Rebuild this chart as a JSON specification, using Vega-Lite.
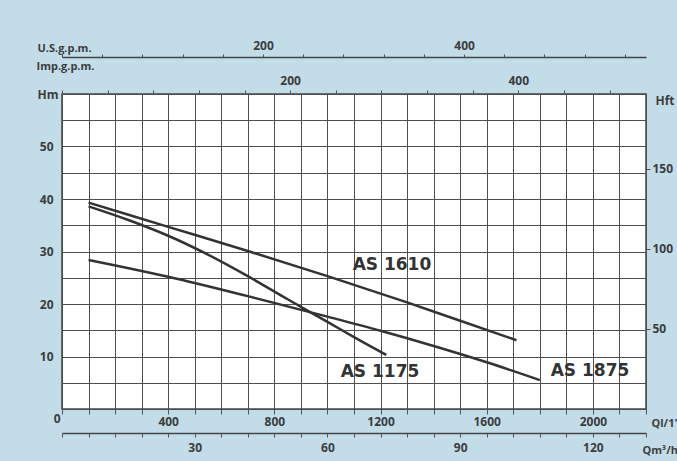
{
  "$schema": "https://vega.github.io/schema/vega-lite/v6.json",
  "width": 584,
  "height": 315,
  "autosize": {"type": "none"},
  "padding": {"left": 62, "top": 94, "right": 31, "bottom": 52},
  "background": "#c2dce8",
  "config": {
    "view": {"fill": "white", "stroke": "#444444", "strokeWidth": 1.5},
    "axis": {
      "labelFont": "Open Sans", "labelFontWeight": "bold", "labelFontSize": 12, "labelColor": "#3c3c3c",
      "titleFont": "Open Sans", "titleFontWeight": "bold", "titleFontSize": 11, "titleColor": "#3c3c3c",
      "tickColor": "#555555", "domainColor": "#444444", "gridColor": "#4f4f4f", "gridWidth": 1, "gridOpacity": 1,
      "labelOverlap": false, "labelFlush": false
    }
  },
  "datasets": {
    "curves": [
      {"pump": "AS 1610", "q": 100, "h": 39.3},
      {"pump": "AS 1610", "q": 400, "h": 34.7},
      {"pump": "AS 1610", "q": 700, "h": 30.1},
      {"pump": "AS 1610", "q": 1000, "h": 25.3},
      {"pump": "AS 1610", "q": 1300, "h": 20.3},
      {"pump": "AS 1610", "q": 1500, "h": 16.8},
      {"pump": "AS 1610", "q": 1712, "h": 13.1},
      {"pump": "AS 1175", "q": 100, "h": 38.6},
      {"pump": "AS 1175", "q": 250, "h": 36.0},
      {"pump": "AS 1175", "q": 400, "h": 33.0},
      {"pump": "AS 1175", "q": 550, "h": 29.4},
      {"pump": "AS 1175", "q": 700, "h": 25.3},
      {"pump": "AS 1175", "q": 850, "h": 20.9},
      {"pump": "AS 1175", "q": 1000, "h": 16.6},
      {"pump": "AS 1175", "q": 1100, "h": 13.7},
      {"pump": "AS 1175", "q": 1222, "h": 10.3},
      {"pump": "AS 1875", "q": 100, "h": 28.4},
      {"pump": "AS 1875", "q": 400, "h": 25.2},
      {"pump": "AS 1875", "q": 700, "h": 21.5},
      {"pump": "AS 1875", "q": 1000, "h": 17.6},
      {"pump": "AS 1875", "q": 1200, "h": 14.9},
      {"pump": "AS 1875", "q": 1400, "h": 12.0},
      {"pump": "AS 1875", "q": 1600, "h": 8.9},
      {"pump": "AS 1875", "q": 1800, "h": 5.5}
    ],
    "labels": [
      {"pump": "AS 1610", "q": 1243, "h": 27.4},
      {"pump": "AS 1175", "q": 1198, "h": 7.0},
      {"pump": "AS 1875", "q": 1989, "h": 7.2}
    ],
    "m3h": [{"v": 0}, {"v": 132}],
    "usgpm": [{"v": 0}, {"v": 581}],
    "impgpm": [{"v": 0}, {"v": 512}],
    "hft": [{"v": 0}, {"v": 196.85}]
  },
  "layer": [
    {
      "data": {"name": "curves"},
      "mark": {"type": "line", "stroke": "#333333", "strokeWidth": 2.5, "interpolate": "monotone"},
      "encoding": {
        "x": {
          "field": "q", "type": "quantitative",
          "scale": {"domain": [0, 2200], "nice": false, "zero": false},
          "axis": {
            "orient": "bottom",
            "values": [0,100,200,300,400,500,600,700,800,900,1000,1100,1200,1300,1400,1500,1600,1700,1800,1900,2000,2100,2200],
            "grid": true, "domain": false, "tickSize": 5, "labelPadding": 2, "format": "d",
            "labelExpr": "(datum.value % 400 == 0 && datum.value > 0) ? datum.label : ''",
            "title": "Ql/1'", "titleX": 589, "titleY": 14, "titleAlign": "left", "titleBaseline": "middle", "titleFontSize": 11
          }
        },
        "y": {
          "field": "h", "type": "quantitative",
          "scale": {"domain": [0, 60], "nice": false},
          "axis": {
            "orient": "left",
            "values": [0,5,10,15,20,25,30,35,40,45,50,55,60],
            "grid": true, "domain": false, "tickSize": 0, "format": "d",
            "labelPadding": {"condition": {"test": "datum.value == 0", "value": 2}, "value": 9},
            "labelOffset": {"condition": {"test": "datum.value == 0", "value": 9}, "value": 0},
            "labelExpr": "(datum.value % 10 == 0 && datum.value < 60) ? datum.label : ''",
            "title": "Hm", "titleAngle": 0, "titleX": -25, "titleY": 0, "titleAlign": "left", "titleBaseline": "middle", "titleFontSize": 12
          }
        },
        "detail": {"field": "pump", "type": "nominal"}
      }
    },
    {
      "data": {"name": "labels"},
      "mark": {"type": "text", "font": "DejaVu Sans", "fontWeight": "bold", "fontSize": 17, "fill": "#333333", "align": "center", "baseline": "middle"},
      "encoding": {
        "x": {"field": "q", "type": "quantitative", "scale": {"domain": [0, 2200], "nice": false, "zero": false}, "axis": null},
        "y": {"field": "h", "type": "quantitative", "scale": {"domain": [0, 60], "nice": false}, "axis": null},
        "text": {"field": "pump", "type": "nominal"}
      }
    },
    {
      "data": {"name": "m3h"},
      "mark": {"type": "point", "opacity": 0},
      "encoding": {
        "x": {
          "field": "v", "type": "quantitative",
          "scale": {"domain": [0, 132], "nice": false},
          "axis": {
            "orient": "bottom", "offset": 24,
            "values": [0,6,12,18,24,30,36,42,48,54,60,66,72,78,84,90,96,102,108,114,120,126,132],
            "grid": false, "domain": true, "domainWidth": 1.5, "tickSize": 4, "labelPadding": 5,
            "labelExpr": "(datum.value % 30 == 0 && datum.value > 0) ? datum.label : ''",
            "title": "Qm³/h", "titleX": 580, "titleY": 17, "titleAlign": "left", "titleBaseline": "middle", "titleFontSize": 11
          }
        }
      }
    },
    {
      "data": {"name": "usgpm"},
      "mark": {"type": "point", "opacity": 0},
      "encoding": {
        "x": {
          "field": "v", "type": "quantitative",
          "scale": {"domain": [0, 581], "nice": false},
          "axis": {
            "orient": "top", "offset": 37,
            "values": [0,40,80,120,160,200,240,280,320,360,400,440,480,520,560],
            "grid": false, "domain": true, "domainWidth": 1.5, "tickSize": 3, "labelPadding": 2,
            "labelExpr": "(datum.value == 200 || datum.value == 400) ? datum.label : ''",
            "title": "U.S.g.p.m.", "titleX": -25, "titleY": -9, "titleAlign": "left", "titleBaseline": "middle"
          }
        }
      }
    },
    {
      "data": {"name": "impgpm"},
      "mark": {"type": "point", "opacity": 0},
      "encoding": {
        "x": {
          "field": "v", "type": "quantitative",
          "scale": {"domain": [0, 512], "nice": false},
          "axis": {
            "orient": "top", "offset": 0,
            "values": [0,40,80,120,160,200,240,280,320,360,400,440,480],
            "grid": false, "domain": false, "tickSize": 4, "labelPadding": 3,
            "labelExpr": "(datum.value == 200 || datum.value == 400) ? datum.label : ''",
            "title": "Imp.g.p.m.", "titleX": -26, "titleY": -28, "titleAlign": "left", "titleBaseline": "middle"
          }
        }
      }
    },
    {
      "data": {"name": "hft"},
      "mark": {"type": "point", "opacity": 0},
      "encoding": {
        "y": {
          "field": "v", "type": "quantitative",
          "scale": {"domain": [0, 196.85], "nice": false},
          "axis": {
            "orient": "right",
            "values": [50, 100, 150],
            "grid": false, "domain": false, "tickSize": 4, "labelPadding": 2,
            "title": "Hft", "titleAngle": 0, "titleX": 9, "titleY": 6, "titleAlign": "left", "titleBaseline": "middle", "titleFontSize": 12
          }
        }
      }
    }
  ],
  "resolve": {"scale": {"x": "independent", "y": "independent"}}
}
